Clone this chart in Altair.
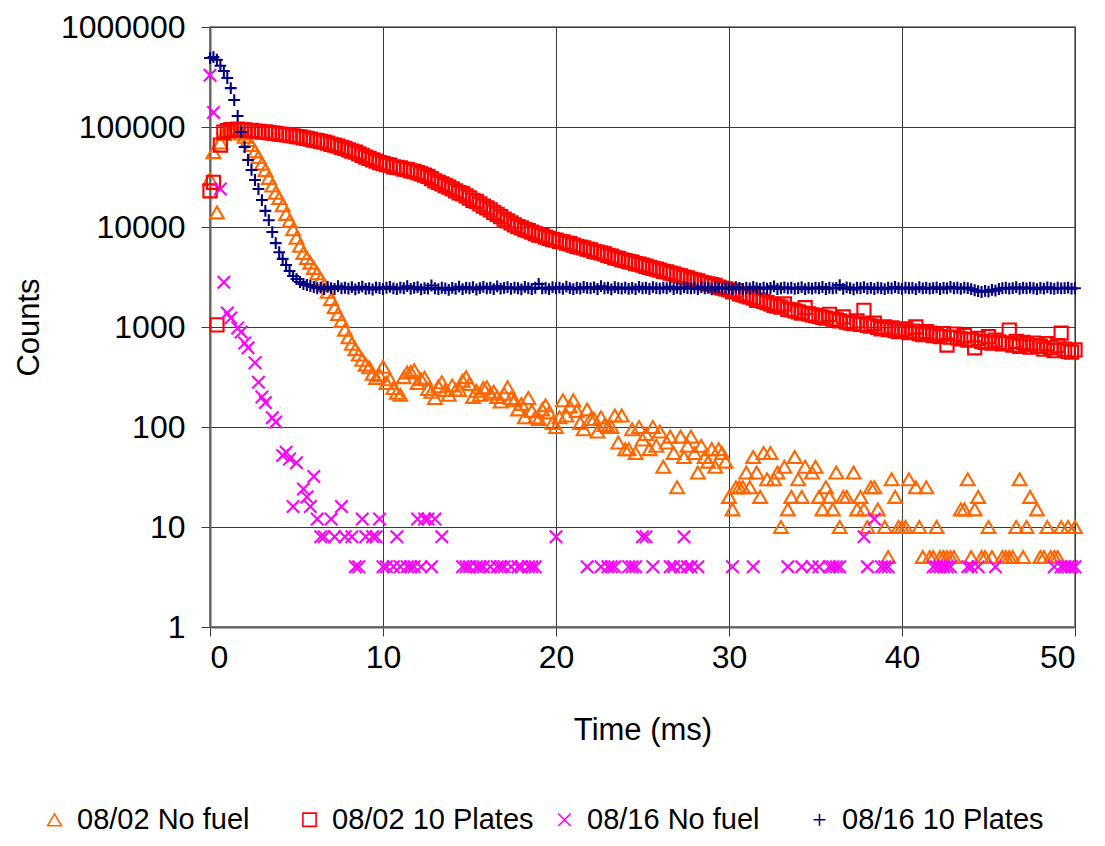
import altair as alt
import pandas as pd

# time bins (ms)
time_ms = [
    0.0, 0.2, 0.4, 0.6, 0.8, 1.0, 1.2, 1.4, 1.6, 1.8,
    2.0, 2.2, 2.4, 2.6, 2.8, 3.0, 3.2, 3.4, 3.6, 3.8,
    4.0, 4.2, 4.4, 4.6, 4.8, 5.0, 5.2, 5.4, 5.6, 5.8,
    6.0, 6.2, 6.4, 6.6, 6.8, 7.0, 7.2, 7.4, 7.6, 7.8,
    8.0, 8.2, 8.4, 8.6, 8.8, 9.0, 9.2, 9.4, 9.6, 9.8,
    10.0, 10.2, 10.4, 10.6, 10.8, 11.0, 11.2, 11.4, 11.6, 11.8,
    12.0, 12.2, 12.4, 12.6, 12.8, 13.0, 13.2, 13.4, 13.6, 13.8,
    14.0, 14.2, 14.4, 14.6, 14.8, 15.0, 15.2, 15.4, 15.6, 15.8,
    16.0, 16.2, 16.4, 16.6, 16.8, 17.0, 17.2, 17.4, 17.6, 17.8,
    18.0, 18.2, 18.4, 18.6, 18.8, 19.0, 19.2, 19.4, 19.6, 19.8,
    20.0, 20.2, 20.4, 20.6, 20.8, 21.0, 21.2, 21.4, 21.6, 21.8,
    22.0, 22.2, 22.4, 22.6, 22.8, 23.0, 23.2, 23.4, 23.6, 23.8,
    24.0, 24.2, 24.4, 24.6, 24.8, 25.0, 25.2, 25.4, 25.6, 25.8,
    26.0, 26.2, 26.4, 26.6, 26.8, 27.0, 27.2, 27.4, 27.6, 27.8,
    28.0, 28.2, 28.4, 28.6, 28.8, 29.0, 29.2, 29.4, 29.6, 29.8,
    30.0, 30.2, 30.4, 30.6, 30.8, 31.0, 31.2, 31.4, 31.6, 31.8,
    32.0, 32.2, 32.4, 32.6, 32.8, 33.0, 33.2, 33.4, 33.6, 33.8,
    34.0, 34.2, 34.4, 34.6, 34.8, 35.0, 35.2, 35.4, 35.6, 35.8,
    36.0, 36.2, 36.4, 36.6, 36.8, 37.0, 37.2, 37.4, 37.6, 37.8,
    38.0, 38.2, 38.4, 38.6, 38.8, 39.0, 39.2, 39.4, 39.6, 39.8,
    40.0, 40.2, 40.4, 40.6, 40.8, 41.0, 41.2, 41.4, 41.6, 41.8,
    42.0, 42.2, 42.4, 42.6, 42.8, 43.0, 43.2, 43.4, 43.6, 43.8,
    44.0, 44.2, 44.4, 44.6, 44.8, 45.0, 45.2, 45.4, 45.6, 45.8,
    46.0, 46.2, 46.4, 46.6, 46.8, 47.0, 47.2, 47.4, 47.6, 47.8,
    48.0, 48.2, 48.4, 48.6, 48.8, 49.0, 49.2, 49.4, 49.6, 49.8,
    50.0,
]

series_names = ["08/02 No fuel", "08/02 10 Plates", "08/16 No fuel", "08/16 10 Plates"]

# counts per bin (0 = empty bin, not drawn on the log axis)
counts_0802_no_fuel = [
    30000, 56000, 14000, 70000, 85000, 90000, 92000, 92000, 90000, 86000,
    80000, 74000, 66000, 57000, 50000, 43000, 37000, 31000, 26000, 22000,
    19500, 16500, 13500, 11500, 9500, 7800, 6500, 5500, 4900, 4400,
    3900, 3450, 3000, 2650, 2250, 1900, 1580, 1350, 1150, 940,
    790, 680, 600, 530, 470, 420, 395, 340, 310, 330,
    400, 275, 300, 245, 220, 210, 315, 350, 355, 370,
    275, 300, 310, 240, 225, 195, 255, 280, 235, 210,
    260, 235, 235, 290, 315, 270, 200, 230, 210, 245,
    250, 215, 225, 200, 180, 215, 250, 195, 185, 150,
    170, 125, 195, 145, 125, 120, 150, 165, 140, 110,
    100, 125, 185, 130, 160, 185, 145, 110, 95, 150,
    120, 120, 90, 125, 105, 100, 100, 130, 70, 130,
    60, 60, 95, 55, 100, 75, 85, 60, 100, 65,
    90, 40, 70, 80, 55, 25, 80, 50, 65, 80,
    55, 35, 65, 50, 45, 60, 40, 60, 55, 45,
    20, 15, 25, 25, 25, 35, 25, 50, 35, 20,
    55, 30, 55, 30, 35, 10, 40, 15, 20, 50,
    30, 20, 40, 0, 35, 40, 20, 15, 25, 20,
    15, 35, 10, 20, 20, 0, 35, 15, 20, 15,
    10, 25, 25, 15, 0, 10, 5, 30, 20, 10,
    10, 10, 30, 0, 25, 10, 5, 25, 5, 5,
    10, 5, 5, 5, 5, 5, 0, 15, 15, 30,
    5, 15, 20, 5, 5, 10, 5, 0, 0, 5,
    5, 5, 5, 10, 30, 5, 10, 20, 0, 15,
    5, 5, 10, 5, 5, 5, 10, 0, 10, 0,
    10,
]

counts_0802_10_plates = [
    23000, 28000, 1050, 66000, 89000, 92000, 94000, 93500, 95000, 93000,
    93500, 92000, 92500, 91000, 90500, 89000, 89500, 88000, 87000, 86500,
    85000, 84500, 83500, 83000, 81500, 80000, 79500, 78000, 77000, 75500,
    74000, 73000, 72000, 70500, 69000, 67000, 66000, 64500, 62500, 61000,
    59000, 57500, 56000, 54000, 52000, 50000, 48500, 47000, 45500, 44000,
    43000, 42000, 41500, 40000, 39500, 39000, 38000, 37500, 36500, 36000,
    35000, 34000, 33000, 32000, 30500, 29000, 28000, 27000, 26000, 25000,
    24000, 23000, 22000, 21500, 20500, 19500, 18500, 18000, 17000, 16200,
    15500, 14800, 14000, 13400, 12700, 12000, 11500, 11000, 10500, 10100,
    9800, 9400, 9200, 8900, 8600, 8300, 8200, 7900, 7700, 7500,
    7400, 7200, 7100, 6900, 6800, 6600, 6400, 6300, 6200, 6000,
    5900, 5700, 5600, 5500, 5400, 5200, 5100, 4900, 4850, 4700,
    4600, 4500, 4450, 4300, 4250, 4150, 4050, 3950, 3850, 3800,
    3700, 3600, 3550, 3450, 3400, 3300, 3250, 3150, 3100, 3000,
    2950, 2900, 2800, 2750, 2700, 2650, 2600, 2500, 2450, 2400,
    2350, 2250, 2300, 2150, 2100, 2050, 2000, 1950, 1850, 1850,
    1800, 1750, 1700, 1650, 1620, 1580, 1700, 1500, 1480, 1450,
    1420, 1380, 1560, 1350, 1320, 1300, 1280, 1250, 1230, 1340,
    1200, 1180, 1150, 1260, 1120, 1100, 1080, 1150, 1060, 1470,
    1040, 1020, 1090, 990, 960, 1000, 940, 980, 920, 900,
    930, 960, 880, 910, 1000, 860, 840, 900, 870, 820,
    830, 800, 860, 660, 790, 850, 780, 760, 820, 740,
    750, 620, 770, 720, 700, 800, 690, 740, 710, 680,
    690, 930, 660, 720, 640, 700, 670, 630, 690, 650,
    640, 600, 680, 620, 580, 650, 870, 600, 570, 560,
    590,
]

counts_0816_no_fuel = [
    330000, 140000, 0, 24000, 2800, 1380, 1230, 0, 980, 890,
    690, 620, 0, 440, 280, 200, 176, 0, 124, 112,
    0, 52, 56, 48, 16, 44, 0, 24, 20, 16,
    32, 12, 8, 8, 0, 12, 8, 0, 16, 8,
    0, 8, 4, 4, 12, 8, 0, 8, 8, 12,
    4, 4, 0, 4, 8, 4, 0, 4, 4, 4,
    12, 4, 12, 12, 4, 12, 0, 8, 0, 0,
    0, 0, 0, 4, 4, 4, 0, 4, 4, 4,
    0, 4, 0, 4, 4, 4, 0, 4, 0, 4,
    4, 0, 4, 4, 4, 0, 0, 0, 0, 0,
    8, 0, 0, 0, 0, 0, 0, 0, 0, 4,
    0, 0, 0, 4, 0, 4, 4, 4, 0, 0,
    0, 4, 4, 4, 0, 8, 8, 0, 4, 0,
    0, 0, 0, 4, 4, 0, 4, 8, 4, 4,
    0, 4, 0, 0, 0, 0, 0, 0, 0, 0,
    0, 4, 0, 0, 0, 0, 0, 4, 0, 0,
    0, 0, 0, 0, 0, 0, 0, 4, 0, 0,
    0, 4, 0, 0, 4, 0, 4, 0, 0, 4,
    4, 4, 4, 0, 0, 0, 0, 0, 0, 8,
    4, 0, 12, 0, 4, 4, 4, 0, 0, 0,
    0, 0, 0, 0, 0, 0, 0, 0, 0, 4,
    4, 4, 4, 4, 4, 0, 0, 0, 0, 4,
    4, 0, 4, 0, 0, 0, 0, 4, 0, 0,
    0, 0, 0, 0, 0, 0, 0, 0, 0, 0,
    0, 0, 0, 0, 4, 0, 4, 4, 4, 4,
    4,
]

counts_0816_10_plates = [
    490000, 500000, 470000, 410000, 363000, 309000, 245000, 186000, 129000, 89000,
    63000, 46800, 37200, 29500, 24000, 18600, 14500, 11700, 8900, 6900,
    5600, 4800, 4170, 3630, 3240, 3020, 2820, 2690, 2630, 2570,
    2510, 2440, 2480, 2390, 2520, 2450, 2400, 2560, 2430, 2470,
    2420, 2500, 2380, 2460, 2530, 2410, 2440, 2370, 2490, 2450,
    2400, 2470, 2520, 2430, 2390, 2480, 2440, 2560, 2410, 2460,
    2500, 2380, 2450, 2420, 2600, 2440, 2390, 2470, 2430, 2350,
    2460, 2410, 2530, 2390, 2480, 2440, 2500, 2370, 2450, 2520,
    2430, 2470, 2390, 2550, 2420, 2460, 2500, 2410, 2480, 2440,
    2380, 2520, 2450, 2400, 2470, 2690, 2430, 2460, 2390, 2500,
    2440, 2480, 2410, 2530, 2450, 2390, 2470, 2420, 2510, 2460,
    2430, 2490, 2400, 2560, 2440, 2470, 2380, 2500, 2450, 2420,
    2480, 2410, 2460, 2390, 2520, 2440, 2470, 2400, 2500, 2450,
    2420, 2480, 2440, 2530, 2390, 2460, 2410, 2490, 2450, 2430,
    2470, 2400, 2510, 2440, 2460, 2380, 2490, 2450, 2420, 2480,
    2440, 2390, 2500, 2460, 2410, 2470, 2430, 2520, 2450, 2400,
    2480, 2420, 2460, 2550, 2400, 2440, 2490, 2430, 2470, 2410,
    2450, 2500, 2390, 2460, 2420, 2480, 2440, 2510, 2400, 2470,
    2430, 2460, 2620, 2410, 2490, 2450, 2380, 2470, 2440, 2500,
    2420, 2460, 2400, 2480, 2440, 2390, 2470, 2430, 2510, 2450,
    2410, 2480, 2440, 2460, 2390, 2500, 2430, 2470, 2420, 2450,
    2490, 2400, 2460, 2430, 2520, 2440, 2470, 2410, 2480, 2450,
    2390, 2330, 2280, 2240, 2300, 2260, 2350, 2310, 2400, 2440,
    2470, 2420, 2450, 2500, 2410, 2460, 2430, 2480, 2440, 2390,
    2460, 2420, 2490, 2440, 2410, 2470, 2430, 2450, 2480, 2420,
    2440,
]

series_colors = ["#FF6600", "#FF0000", "#FF00FF", "#000080"]
series_shapes = [
    "triangle-up",
    "square",
    "M-1,-1L1,1M1,-1L-1,1",
    "M-1,0L1,0M0,-1L0,1",
]
series_sizes = [190, 140, 170, 175]

rows = []
for name, vals in zip(series_names, [counts_0802_no_fuel, counts_0802_10_plates,
                                     counts_0816_no_fuel, counts_0816_10_plates]):
    for t, c in zip(time_ms, vals):
        if c > 0:
            rows.append({"Time": t, "Counts": c, "Series": name})
df = pd.DataFrame(rows)

FONT = "Liberation Sans"

legend = alt.Legend(title=None, orient="none", direction="horizontal",
                    legendX=-170, legendY=778, gridAlign="all",
                    labelFont=FONT, labelFontSize=29, labelColor="black",
                    labelLimit=500,
                    symbolSize=70, symbolStrokeWidth=1.6,
                    labelOffset=8, columnPadding=16)

chart = alt.Chart(df).mark_point(filled=False, strokeWidth=2.1, opacity=1).encode(
    x=alt.X("Time:Q", title="Time (ms)",
            scale=alt.Scale(domain=[0, 50], nice=False),
            axis=alt.Axis(values=[0, 10, 20, 30, 40, 50], format="d",
                          tickSize=9, labelPadding=6, titlePadding=42)),
    y=alt.Y("Counts:Q", title="Counts",
            scale=alt.Scale(type="log", domain=[1, 1000000], nice=False),
            axis=alt.Axis(values=[1, 10, 100, 1000, 10000, 100000, 1000000], format="d",
                          tickSize=9, labelPadding=16, titlePadding=15)),
    color=alt.Color("Series:N", scale=alt.Scale(domain=series_names, range=series_colors),
                    legend=legend),
    shape=alt.Shape("Series:N", scale=alt.Scale(domain=series_names, range=series_shapes),
                    legend=legend),
    size=alt.Size("Series:N", scale=alt.Scale(domain=series_names, range=series_sizes),
                  legend=None),
).properties(
    width=865,
    height=600,
    background="white",
    autosize=alt.AutoSizeParams(type="none"),
    padding={"left": 202, "top": 19, "right": 22, "bottom": 211},
).configure_axis(
    grid=True,
    gridColor="#3a3a3a",
    gridWidth=1,
    domainColor="#606060",
    domainWidth=2,
    tickColor="#3a3a3a",
    labelFont=FONT,
    titleFont=FONT,
    labelFontSize=32,
    titleFontSize=31,
    labelColor="black",
    titleColor="black",
    titleFontWeight="normal",
).configure_view(
    stroke="#8a8a8a",
    strokeWidth=2,
)

chart.save("out.html", embed_options={"renderer": "svg", "actions": False})
